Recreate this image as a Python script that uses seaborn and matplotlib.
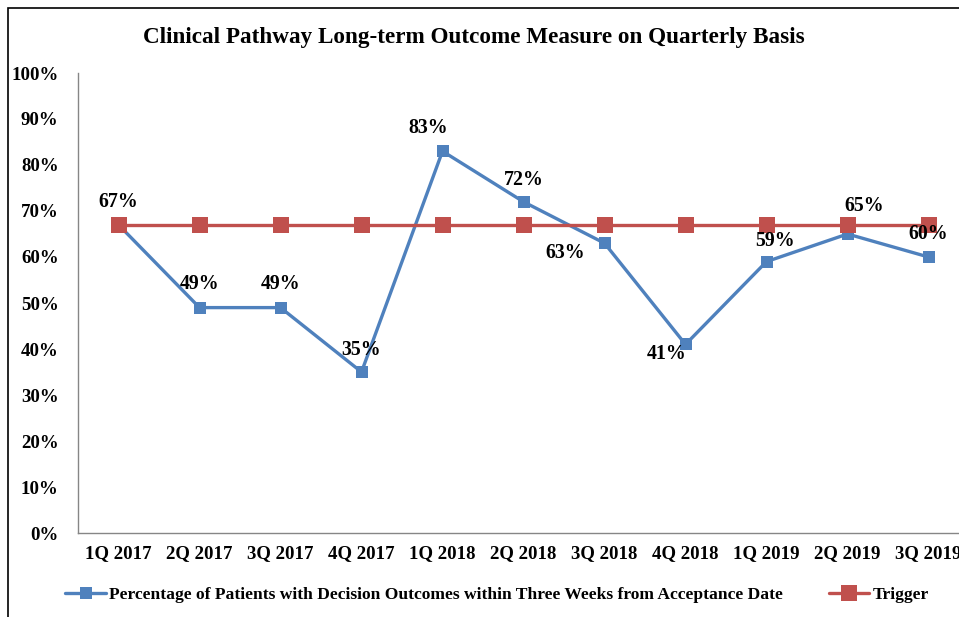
import pandas as pd
import matplotlib.pyplot as plt
import seaborn as sns
from matplotlib.patches import Rectangle

quarters = ['1Q 2017', '2Q 2017', '3Q 2017', '4Q 2017', '1Q 2018', '2Q 2018',
            '3Q 2018', '4Q 2018', '1Q 2019', '2Q 2019', '3Q 2019']
pct_decision = [67, 49, 49, 35, 83, 72, 63, 41, 59, 65, 60]
trigger = [67, 67, 67, 67, 67, 67, 67, 67, 67, 67, 67]

series_name = 'Percentage of Patients with Decision Outcomes within Three Weeks from Acceptance Date'
trigger_name = 'Trigger'

# label offsets in pixels (dx, dy) relative to each point
label_offsets = [(0, 23), (0, 24), (0, 24), (0, 22), (-14, 23), (0, 22),
                 (-39, -10), (-19, -10), (9, 21), (17, 28), (0, 23)]

BLUE = '#4F81BD'
RED = '#C0504D'

sns.set_theme(style='white')
plt.rcParams['font.family'] = ['Liberation Serif', 'DejaVu Serif']
plt.rcParams['font.weight'] = 'bold'

df = pd.DataFrame({'quarter': quarters, 'pct': pct_decision, 'trigger': trigger})

fig = plt.figure(figsize=(9.59, 6.17), dpi=100)
ax = fig.add_axes([78 / 959, 84 / 617, 891 / 959, 460 / 617])

sns.lineplot(data=df, x='quarter', y='pct', ax=ax, color=BLUE, linewidth=2.4,
             marker='s', markersize=8, markeredgewidth=0, sort=False,
             label=series_name, legend=False)
sns.lineplot(data=df, x='quarter', y='trigger', ax=ax, color=RED, linewidth=2.4,
             marker='s', markersize=11, markeredgewidth=0, sort=False,
             label=trigger_name, legend=False)

for i, (v, off) in enumerate(zip(pct_decision, label_offsets)):
    ax.annotate(f'{v}%', (i, v), xytext=(off[0] * 0.72, off[1] * 0.72),
                textcoords='offset points', ha='center', va='center',
                fontsize=14.3, fontweight='bold', color='black', zorder=5)

ax.set_ylim(0, 100)
ax.set_xlim(-0.5, len(quarters) - 0.5)
ax.set_yticks(range(0, 101, 10))
ax.set_yticklabels([f'{t}%' for t in range(0, 101, 10)])
ax.tick_params(axis='both', length=0, labelsize=13.6, labelcolor='black')
ax.tick_params(axis='y', pad=14)
ax.tick_params(axis='x', pad=9)
for lbl in ax.get_xticklabels() + ax.get_yticklabels():
    lbl.set_fontweight('bold')
ax.set_xlabel('')
ax.set_ylabel('')
for side in ['top', 'right']:
    ax.spines[side].set_visible(False)
for side in ['left', 'bottom']:
    ax.spines[side].set_color('#868686')
    ax.spines[side].set_linewidth(1.0)

fig.text(474 / 959, 1 - 38 / 617, 'Clinical Pathway Long-term Outcome Measure on Quarterly Basis',
         ha='center', va='center', fontsize=16.7, fontweight='bold', color='black')

handles, labels = ax.get_legend_handles_labels()
leg = fig.legend(handles, labels, loc='center', bbox_to_anchor=(497 / 959, 1 - 595 / 617),
                 ncol=2, frameon=False, handlelength=2.3,
                 handletextpad=0.2, columnspacing=2.6, prop={'weight': 'bold', 'size': 12.6})
for t in leg.get_texts():
    t.set_color('black')

fig.patches.append(Rectangle((8 / 959, -0.1), 1.2, 1 - 8 / 617 + 0.1,
                             transform=fig.transFigure, fill=False,
                             edgecolor='black', linewidth=1.2))

fig.savefig('out.png', dpi=100)
